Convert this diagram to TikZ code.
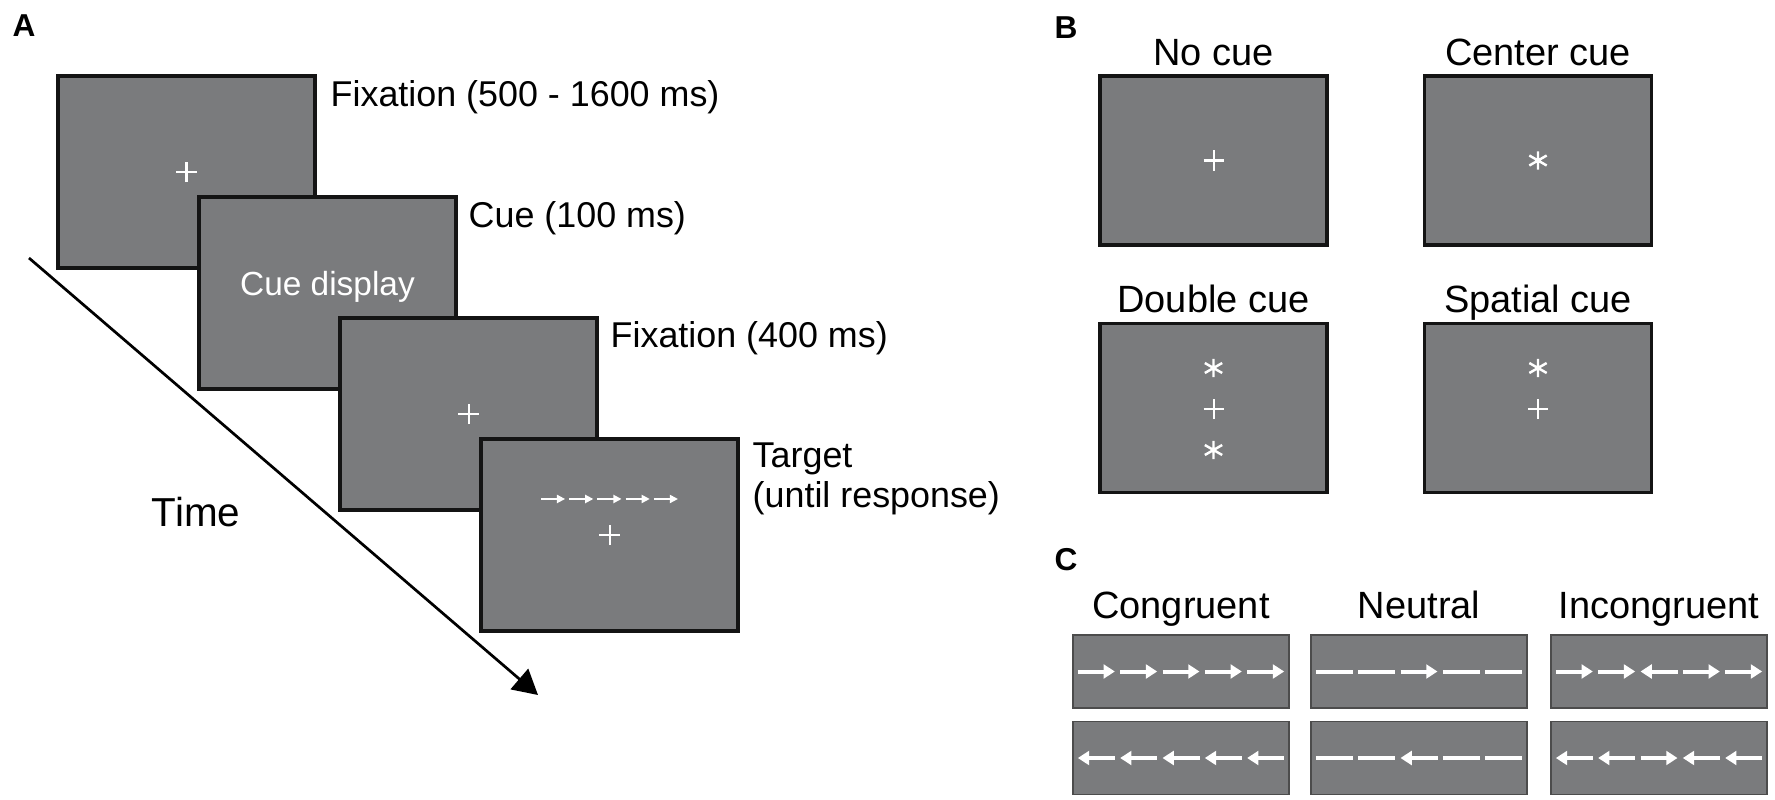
\documentclass[tikz,border=0pt]{standalone}
\usepackage{fontspec}
\setmainfont{Liberation Sans}
\usetikzlibrary{arrows.meta}

\definecolor{scrgray}{RGB}{122,123,125}

\tikzset{
	screen/.style={draw=black!92, line width=0.9pt, fill=scrgray, inner sep=0pt, outer sep=0pt, minimum width=2.57cm, minimum height=1.92cm},
	cuebox/.style={screen, minimum width=2.27cm, minimum height=1.69cm},
	flkbox/.style={draw=black!70, line width=0.4pt, fill=scrgray, inner sep=0pt, outer sep=0pt, minimum width=2.16cm, minimum height=0.73cm},
	lbl/.style={font=\fontsize{10.2}{12}\selectfont, inner sep=0pt, anchor=base west},
	ttl/.style={font=\fontsize{10.8}{13}\selectfont, inner sep=0pt, anchor=base},
	panel/.style={font=\fontsize{9}{11}\selectfont\bfseries, inner sep=0pt, anchor=base west},
	sym/.style={draw=white, line width=0.57pt},
	star/.style={draw=white, line width=0.7pt},
	tgt/.style={draw=white, line width=0.5pt, -{Triangle[length=2.3pt, width=2.3pt]}},
	flk/.style={draw=white, line width=1.14pt},
	rgt/.style={-{Triangle[length=3.2pt, width=3.9pt]}},
	lft/.style={{Triangle[length=3.2pt, width=3.9pt]}-},
	dsh/.style={},
	timearrow/.style={line width=0.77pt, -{Triangle[length=7pt, width=7.6pt]}}
}

% white fixation cross and cue asterisk
\newcommand{\fixcross}[1]{\draw[sym] ([xshift=-0.1cm]#1) -- ([xshift=0.1cm]#1) ([yshift=-0.1cm]#1) -- ([yshift=0.1cm]#1);}
\newcommand{\cuestar}[1]{\draw[star] ([yshift=-0.092cm]#1) -- ([yshift=0.092cm]#1) ([shift={(30:0.1cm)}]#1) -- ([shift={(210:0.1cm)}]#1) ([shift={(150:0.1cm)}]#1) -- ([shift={(330:0.1cm)}]#1);}
% row of five flankers
\newcommand{\flankrow}[2]{\foreach \d [count=\i] in {#2} {\draw[flk,\d] ([xshift={(\i-3)*0.423cm-0.185cm}]#1.center) -- ++(0.37cm,0);}}

\begin{document}
\begin{tikzpicture}[x=0.01cm, y=-0.01cm]
	\useasboundingbox (0,0) rectangle (1775,800);
	
	%panel A: trial sequence
	\node[panel] (pa) at (12,37) {A};
	\node[screen] (fix1) at (186.5,172) {};
	\node[screen] (cue) at (327.5,293) {};
	\node[screen] (fix2) at (468.5,414) {};
	\node[screen] (tgt) at (609.5,535) {};
	
	\fixcross{fix1.center}
	\node[text=white, font=\fontsize{9.5}{11}\selectfont, inner sep=0pt, anchor=base] (cuetxt) at (327.5,295) {Cue display};
	\fixcross{fix2.center}
	\fixcross{tgt.center}
	\foreach \i in {1,...,5}
		\draw[tgt] ([xshift={(\i-3)*0.282cm-0.12cm}, yshift=0.36cm]tgt.center) -- ++(0.24cm,0);
	
	\node[lbl] (lfix1) at (330,106) {Fixation (500 - 1600 ms)};
	\node[lbl] (lcue) at (468,227) {Cue (100 ms)};
	\node[lbl] (lfix2) at (610,347) {Fixation (400 ms)};
	\node[lbl] (ltgt1) at (752,467) {Target};
	\node[lbl] (ltgt2) at (752,507) {(until response)};
	
	\coordinate (tstart) at (29,258);
	\coordinate (tend) at (538,695);
	\draw[timearrow] (tstart) -- (tend);
	\node[font=\fontsize{11.5}{14}\selectfont, inner sep=0pt, anchor=base] (time) at (196,526) {Time};
	
	%panel B: cue conditions
	\node[panel] (pb) at (1054,38) {B};
	\node[cuebox] (nocue) at (1213.5,160.5) {};
	\node[cuebox] (center) at (1538,160.5) {};
	\node[cuebox] (double) at (1213.5,408) {};
	\node[cuebox] (spatial) at (1538,408) {};
	\node[ttl] at (1213.5,65) {No cue};
	\node[ttl] at (1538,65) {Center cue};
	\node[ttl] at (1213.5,312) {Double cue};
	\node[ttl] at (1538,312) {Spatial cue};
	
	\coordinate (dbl1) at (1213.5,368);
	\coordinate (dbl2) at (1213.5,409);
	\coordinate (dbl3) at (1213.5,450);
	\coordinate (spt1) at (1538,368);
	\coordinate (spt2) at (1538,409);
	\fixcross{nocue.center}
	\cuestar{center.center}
	\cuestar{dbl1}
	\fixcross{dbl2}
	\cuestar{dbl3}
	\cuestar{spt1}
	\fixcross{spt2}
	
	%panel C: flanker conditions
	\node[panel] (pc) at (1054,570) {C};
	\node[ttl] at (1181,618) {Congruent};
	\node[ttl] at (1419,618) {Neutral};
	\node[ttl] at (1659,618) {Incongruent};
	\node[flkbox] (con1) at (1181,671.5) {};
	\node[flkbox] (con2) at (1181,758) {};
	\node[flkbox] (neu1) at (1419,671.5) {};
	\node[flkbox] (neu2) at (1419,758) {};
	\node[flkbox] (inc1) at (1659,671.5) {};
	\node[flkbox] (inc2) at (1659,758) {};
	
	\flankrow{con1}{rgt,rgt,rgt,rgt,rgt}
	\flankrow{con2}{lft,lft,lft,lft,lft}
	\flankrow{neu1}{dsh,dsh,rgt,dsh,dsh}
	\flankrow{neu2}{dsh,dsh,lft,dsh,dsh}
	\flankrow{inc1}{rgt,rgt,lft,rgt,rgt}
	\flankrow{inc2}{lft,lft,rgt,lft,lft}
	
\end{tikzpicture}
\end{document}
